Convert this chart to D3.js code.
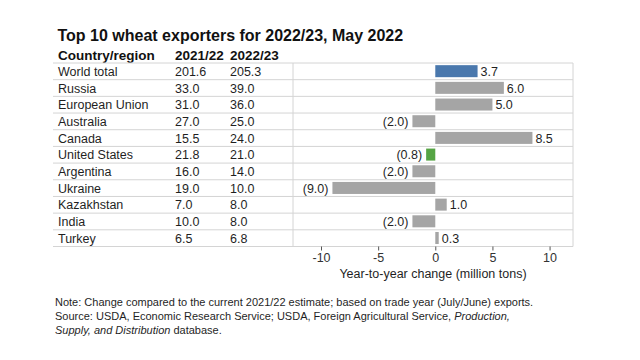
<!DOCTYPE html>
<html>
<head>
<meta charset="utf-8">
<script src="https://cdn.jsdelivr.net/npm/d3@7"></script>
<style>
  html, body { margin: 0; padding: 0; background: #ffffff; }
  svg { display: block; font-family: "Liberation Sans", Arial, sans-serif; }
</style>
</head>
<body>
<svg id="chart" width="640" height="360"></svg>
<script>
const countries = ["World total","Russia","European Union","Australia","Canada","United States","Argentina","Ukraine","Kazakhstan","India","Turkey"];
const exports2122 = [201.6,33.0,31.0,27.0,15.5,21.8,16.0,19.0,7.0,10.0,6.5];
const exports2223 = [205.3,39.0,36.0,25.0,24.0,21.0,14.0,10.0,8.0,8.0,6.8];
const change = [3.7,6.0,5.0,-2.0,8.5,-0.8,-2.0,-9.0,1.0,-2.0,0.3];
const xTicks = [-10,-5,0,5,10];
const titleText = "Top 10 wheat exporters for 2022/23, May 2022";
const headers = ["Country/region","2021/22","2022/23"];
const axisTitle = "Year-to-year change (million tons)";

const svg = d3.select("#chart");
const textColor = "#1f1f1f";
const gridColor = "#d4d4d4";

const tableLeft = 53, plotLeft = 293, plotRight = 573;
const rowTop = 63, rowBottom = 246.5;
const colX = [58, 175, 230];

const y = d3.scaleBand().domain(countries).range([rowTop, rowBottom]).padding(0);
const x = d3.scaleLinear().domain([-12.45, 12.05]).range([plotLeft, plotRight]);
const bw = y.bandwidth();

function colorFor(c) {
  if (c === "World total") return "#4a78ad";
  if (c === "United States") return "#55a444";
  return "#a5a5a5";
}
function fmt(v) {
  return v < 0 ? "(" + Math.abs(v).toFixed(1) + ")" : v.toFixed(1);
}

// title
svg.append("text").attr("x", 57.5).attr("y", 41)
  .attr("font-size", 16).attr("font-weight", "bold").attr("fill", "#111")
  .text(titleText);

// headers
svg.selectAll("text.hdr").data(headers).enter().append("text")
  .attr("class", "hdr")
  .attr("x", (d, i) => colX[i]).attr("y", 59.5)
  .attr("font-size", 13.5).attr("font-weight", "bold").attr("fill", "#111")
  .text(d => d);

// grid lines (row boundaries)
const bounds = countries.map(c => y(c)).concat([rowBottom]);
svg.selectAll("line.hgrid").data(bounds).enter().append("line")
  .attr("x1", tableLeft).attr("x2", plotRight)
  .attr("y1", d => d).attr("y2", d => d)
  .attr("stroke", gridColor).attr("stroke-width", 1);
[plotLeft, plotRight].forEach(px => {
  svg.append("line").attr("x1", px).attr("x2", px)
    .attr("y1", rowTop).attr("y2", rowBottom)
    .attr("stroke", gridColor).attr("stroke-width", 1);
});

// table text
const rows = countries.map((c, i) => ({c, a: exports2122[i], b: exports2223[i], ch: change[i], i}));
const g = svg.append("g").attr("font-size", 12.5).attr("fill", textColor);
g.selectAll("text.country").data(rows).enter().append("text")
  .attr("x", colX[0]).attr("y", d => y(d.c) + bw / 2 + 4.5).text(d => d.c);
g.selectAll("text.v1").data(rows).enter().append("text")
  .attr("x", colX[1]).attr("y", d => y(d.c) + bw / 2 + 4.5).text(d => d.a.toFixed(1));
g.selectAll("text.v2").data(rows).enter().append("text")
  .attr("x", colX[2]).attr("y", d => y(d.c) + bw / 2 + 4.5).text(d => d.b.toFixed(1));

// bars
svg.selectAll("rect.bar").data(rows).enter().append("rect")
  .attr("x", d => x(Math.min(0, d.ch)))
  .attr("width", d => Math.abs(x(d.ch) - x(0)))
  .attr("y", d => y(d.c) + bw * 0.13)
  .attr("height", bw * 0.72)
  .attr("fill", d => colorFor(d.c));

// bar labels
g.selectAll("text.lbl").data(rows).enter().append("text")
  .attr("x", d => d.ch < 0 ? x(d.ch) - 4 : x(d.ch) + 3)
  .attr("text-anchor", d => d.ch < 0 ? "end" : "start")
  .attr("y", d => y(d.c) + bw / 2 + 4.5)
  .text(d => fmt(d.ch));

// axis ticks
const axis = d3.axisBottom(x).tickValues(xTicks).tickSize(4).tickPadding(3)
  .tickFormat(d => d);
const ax = svg.append("g").attr("transform", `translate(0,${rowBottom})`).call(axis);
ax.select(".domain").remove();
ax.selectAll(".tick line").attr("stroke", "#555");
ax.selectAll(".tick text").attr("font-size", 12.5).attr("fill", "#333")
  .attr("font-family", "Liberation Sans, Arial, sans-serif");

svg.append("text").attr("x", (plotLeft + plotRight) / 2).attr("y", 278)
  .attr("text-anchor", "middle").attr("font-size", 12.5).attr("fill", textColor)
  .text(axisTitle);

// notes
const nt = svg.append("g").attr("font-size", 11).attr("fill", textColor);
nt.append("text").attr("x", 55).attr("y", 305.5)
  .text("Note: Change compared to the current 2021/22 estimate; based on trade year (July/June) exports.");
const l2 = nt.append("text").attr("x", 55).attr("y", 319.5);
l2.append("tspan").text("Source: USDA, Economic Research Service; USDA, Foreign Agricultural Service, ");
l2.append("tspan").attr("font-style", "italic").text("Production,");
const l3 = nt.append("text").attr("x", 55).attr("y", 333.5);
l3.append("tspan").attr("font-style", "italic").text("Supply, and Distribution");
l3.append("tspan").text(" database.");
</script>
</body>
</html>
